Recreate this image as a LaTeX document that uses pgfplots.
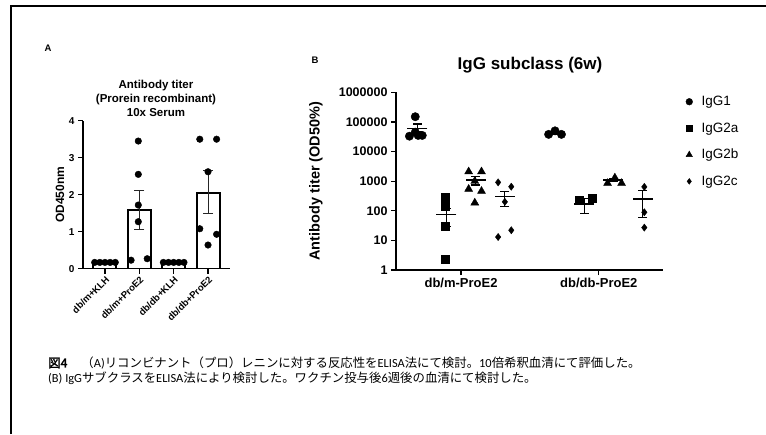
\documentclass[border=0pt]{standalone}
\usepackage{fontspec}
\setmainfont{Liberation Sans}
\newfontfamily\jp[AutoFakeBold=2]{Noto Sans CJK JP}
\newfontfamily\calib{Carlito}
\usepackage{pgfplots}
\pgfplotsset{compat=1.18}
\newcommand\lat[1]{{\calib #1}}

\pgfplotsset{
  prism/.style={
    scale only axis,
    axis x line*=bottom, axis y line*=left,
    axis line style={line width=1.4pt,-},
    tick align=outside, major tick length=5pt,
    tick style={line width=1.2pt,black},
    /pgf/number format/assume math mode=true,
  }
}

\begin{document}
\begin{tikzpicture}
\path[use as bounding box] (0,0) rectangle (766pt,-434pt);
\draw[line width=1.5pt] (11pt,-434pt) -- (11pt,-6pt) -- (766pt,-6pt);

% panel labels and titles
\node[font=\bfseries\fontsize{9.5}{10}\selectfont] at (48pt,-48pt) {A};
\node[font=\bfseries\fontsize{9.5}{10}\selectfont] at (315pt,-60pt) {B};
\node[font=\bfseries\fontsize{11.5}{12}\selectfont] at (156pt,-86pt) {Antibody titer};
\node[font=\bfseries\fontsize{11.5}{12}\selectfont] at (156pt,-100pt) {(Prorein recombinant)};
\node[font=\bfseries\fontsize{11.5}{12}\selectfont] at (156pt,-113pt) {10x Serum};
\node[font=\bfseries\fontsize{17}{18}\selectfont] at (530pt,-65pt) {IgG subclass (6w)};

% panel A
\begin{axis}[prism,
  at={(83pt,-268.7pt)}, anchor=south west,
  width=147pt, height=148pt,
  xmin=-0.64, xmax=3.64, ymin=0, ymax=4,
  xtick={0,1,2,3},
  xticklabels={db/m+KLH,db/m+ProE2,db/db+KLH,db/db+ProE2},
  ytick={0,1,2,3,4},
  x tick label style={rotate=45, anchor=north east, inner sep=1pt,
    font=\bfseries\fontsize{9.5}{10}\selectfont},
  y tick label style={font=\bfseries\fontsize{10}{11}\selectfont},
  ylabel={OD450nm},
  ylabel style={at={(axis description cs:-0.156,0.5)}, anchor=center,
    font=\bfseries\fontsize{12}{13}\selectfont},
]
\addplot[ybar, bar width=23pt, fill=white, draw=black, line width=2pt]
  coordinates {(0,0.15)(1,1.58)(2,0.15)(3,2.04)};
\addplot[black!85, line width=0.8pt, mark=-, mark size=5pt, unbounded coords=jump]
  coordinates {(1,1.06)(1,2.11)(nan,nan)(3,1.50)(3,2.65)};
\addplot[only marks, mark=*, mark size=3.3pt, black] coordinates {
  (-0.30,0.17)(-0.15,0.17)(0,0.17)(0.15,0.17)(0.30,0.17)
  (0.76,0.23)(0.97,3.45)(0.97,2.55)(0.97,1.72)(0.97,1.27)(1.23,0.27)
  (1.70,0.17)(1.85,0.17)(2,0.17)(2.15,0.17)(2.30,0.17)
  (2.76,3.50)(3.25,3.50)(3.0,2.62)(2.76,1.08)(3.25,0.93)(3.0,0.64)
};
\end{axis}

% panel B
\begin{axis}[prism,
  at={(396pt,-270pt)}, anchor=south west,
  width=267pt, height=177.7pt,
  ymode=log, ymin=1, ymax=1000000, yminorticks=false,
  xmin=-0.73, xmax=8.42,
  xtick={1.5,6.22}, xticklabels={db/m-ProE2,db/db-ProE2},
  ytick={1,10,100,1000,10000,100000,1000000},
  yticklabels={1,10,100,1000,10000,100000,1000000},
  x tick label style={font=\bfseries\fontsize{13}{14}\selectfont},
  y tick label style={font=\bfseries\fontsize{12.5}{13}\selectfont},
  ylabel={Antibody titer (OD50\%)},
  ylabel style={at={(axis description cs:-0.30,0.5)}, anchor=center,
    font=\bfseries\fontsize{14.5}{15}\selectfont},
  legend style={draw=none, fill=none, at={(1.085,0.99)}, anchor=north west,
    font=\fontsize{13.5}{14}\selectfont, row sep=11.5pt, inner sep=0pt,
    /tikz/every odd column/.append style={column sep=7pt}},
  legend cell align=left,
  legend image post style={scale=0.8},
]
\addplot[only marks, mark=*, mark size=4.2pt, black] coordinates {
  (-0.07,150000)(-0.27,33000)(0.03,35000)(0.17,35000)(-0.07,45000)
  (4.50,38000)(4.72,50000)(4.94,38000)
};
\addlegendentry{IgG1}
\addplot[only marks, mark=square*, mark size=4pt, black] coordinates {
  (0.94,290)(0.94,190)(0.94,140)(0.94,29)(0.94,2.4)
  (5.54,230)(6.01,260)
};
\addlegendentry{IgG2a}
\addplot[only marks, mark=triangle*, mark size=4.6pt, black] coordinates {
  (1.76,2100)(2.20,2100)(1.97,1000)(1.76,540)(2.20,460)(1.97,186)
  (6.52,850)(6.77,1300)(7.00,850)
};
\addlegendentry{IgG2b}
\addplot[only marks, mark=diamond*, mark size=3.6pt, black] coordinates {
  (2.77,910)(3.22,650)(3.00,200)(2.77,13)(3.22,22)
  (7.78,640)(7.78,89)(7.78,27)
};
\addlegendentry{IgG2c}
% means
\addplot[forget plot, only marks, mark=-, mark size=10pt, mark options={line width=1.6pt}, black]
  coordinates {(0,60000)(1,76)(2,1090)(3,300)(4.72,43000)(5.72,170)(6.72,1100)(7.72,250)};
% SEM
\addplot[forget plot, black, line width=1.2pt, mark=-, mark size=4.5pt, unbounded coords=jump]
  coordinates {
  (0,47000)(0,85000)(nan,nan)(1,29)(1,120)(nan,nan)(2,740)(2,1450)(nan,nan)(3,138)(3,440)(nan,nan)
  (4.72,38000)(4.72,48000)(nan,nan)(5.72,82)(5.72,260)(nan,nan)(6.72,950)(6.72,1250)(nan,nan)(7.72,60)(7.72,470)
  };
\end{axis}

% caption
\node[anchor=west, inner sep=0pt, font=\fontsize{12.4}{14}\selectfont] at (48pt,-363pt)
  {{\jp\bfseries 図4}\hspace{14pt}{\jp （}\lat{A)}{\jp リコンビナント（プロ）レニンに対する反応性を}\lat{ELISA}{\jp 法にて検討。}\lat{10}{\jp 倍希釈血清にて評価した。}};
\node[anchor=west, inner sep=0pt, font=\fontsize{12.4}{14}\selectfont] at (48pt,-378pt)
  {\lat{(B) IgG}{\jp サブクラスを}\lat{ELISA}{\jp 法により検討した。ワクチン投与後}\lat{6}{\jp 週後の血清にて検討した。}};
\end{tikzpicture}
\end{document}
